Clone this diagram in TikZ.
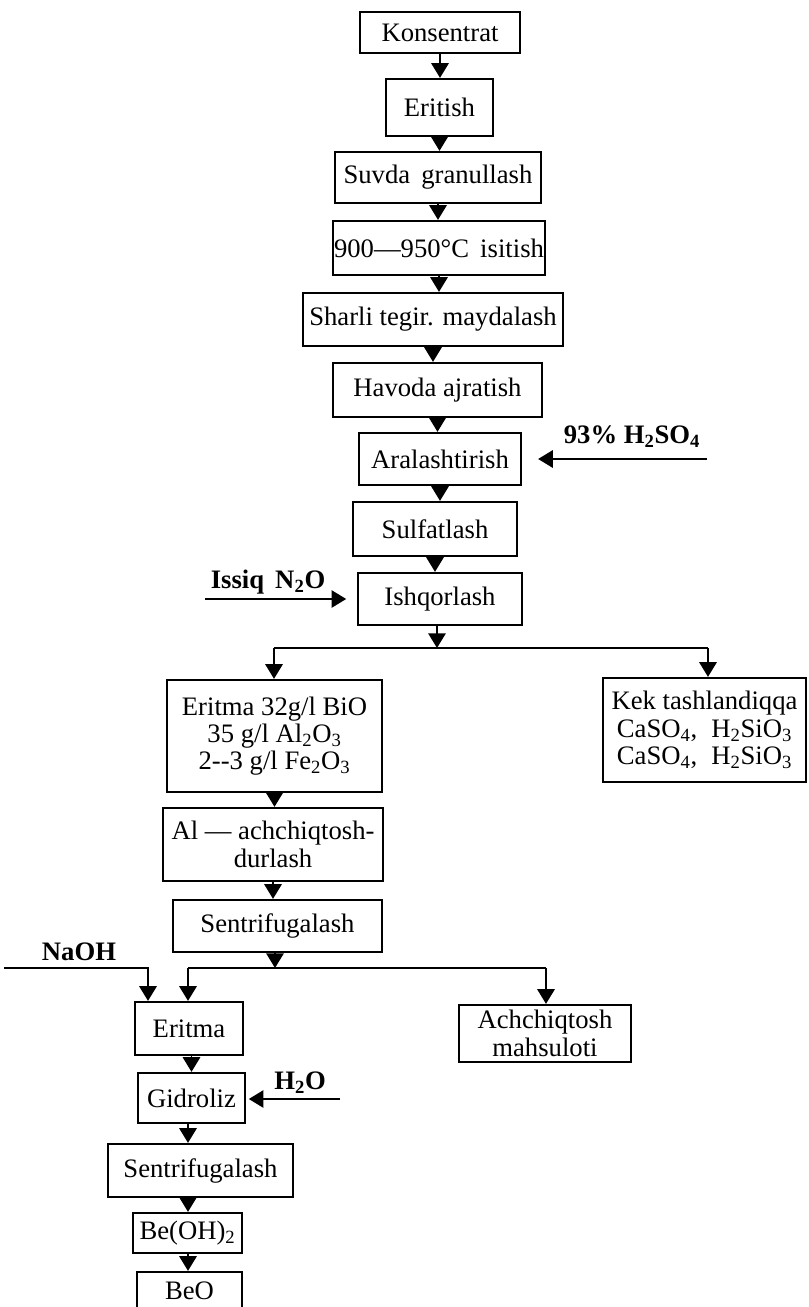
\documentclass[tikz,border=0pt]{standalone}
\usepackage{fontspec}
\setmainfont{Liberation Serif}
\usetikzlibrary{arrows.meta}
\tikzset{
  box/.style args={#1/#2}{draw, line width=1.7pt, inner sep=1pt, align=center,
    minimum width=#1*0.75pt, minimum height=#2*0.75pt,
    font=\fontsize{20}{20.5}\selectfont},
  lbl/.style={inner sep=0pt, font=\fontsize{20}{20.5}\selectfont\bfseries},
  arr/.style={line width=1.4pt, -{Triangle[length=11pt,width=13pt]}},
  ln/.style={line width=1.4pt}
}
\begin{document}
\begin{tikzpicture}[x=0.75pt,y=-0.75pt]
\useasboundingbox (0,0) rectangle (808,1307);
\node[box=160/41] (kon) at (440,32.5) {Konsentrat};
\node[box=107/57] (eri) at (439.5,107.5) {Eritish};
\node[box=206/51] (suv) at (438,177.5) {Suvda\, granullash};
\node[box=208/54] (isi) at (439,248) {900---950\textdegree C\, isitish};
\node[box=260/53] (sha) at (433,319.5) {Sharli tegir. maydalash};
\node[box=209/54] (hav) at (437.5,390) {Havoda ajratish};
\node[box=162/52] (ara) at (440,459) {Aralashtirish};
\node[box=164/54] (sul) at (435,529) {Sulfatlash};
\node[box=164/52] (ish) at (440,599) {Ishqorlash};
\node[box=215/112] (er1) at (274.5,736) {Eritma 32g/l BiO\\35 g/l Al\textsubscript{2}O\textsubscript{3}\\2-{}-3 g/l Fe\textsubscript{2}O\textsubscript{3}};
\node[box=203/104] (kek) at (704.5,730) {Kek tashlandiqqa\\CaSO\textsubscript{4},\; H\textsubscript{2}SiO\textsubscript{3}\\CaSO\textsubscript{4},\; H\textsubscript{2}SiO\textsubscript{3}};
\node[box=220/73] (alb) at (273,844.5) {Al --- achchiqtosh-\\durlash};
\node[box=209/52] (se1) at (277.5,926) {Sentrifugalash};
\node[box=108/53] (er2) at (189,1028.5) {Eritma};
\node[box=172/57] (ach) at (545,1033.5) {Achchiqtosh\\mahsuloti};
\node[box=107/50] (gid) at (191.5,1098) {Gidroliz};
\node[box=185/53] (se2) at (200.5,1170.5) {Sentrifugalash};
\node[box=109/40] (beoh) at (187.5,1233) {Be(OH)\textsubscript{2}};
\node[box=105/38] (beo) at (189.5,1291) {BeO};

\draw[arr] (kon.south) -- (kon.south |- eri.north);
\draw[arr] (eri.south) -- (eri.south |- suv.north);
\draw[arr] (suv.south) -- (suv.south |- isi.north);
\draw[arr] (isi.south) -- (isi.south |- sha.north);
\draw[arr] (sha.south) -- (sha.south |- hav.north);
\draw[arr] (hav.south) -- (hav.south |- ara.north);
\draw[arr] (ara.south) -- (ara.south |- sul.north);
\draw[arr] (sul.south) -- (sul.south |- ish.north);

\coordinate (a93) at (707,459);
\draw[arr, shorten >=12pt] (a93) -- (ara.east);
\node[lbl] (l93) at (632,437) {93\% H\textsubscript{2}SO\textsubscript{4}};
\coordinate (iss) at (205,599);
\draw[arr, shorten >=8pt] (iss) -- (ish.west);
\node[lbl] (liss) at (268,582) {Issiq\, N\textsubscript{2}O};

\coordinate (s1) at (437,648);
\coordinate (s1L) at (274,648);
\coordinate (s1R) at (708,648);
\draw[arr] (s1 |- ish.south) -- (s1);
\draw[ln] (s1L) -- (s1R);
\draw[arr] (s1L) -- (s1L |- er1.north);
\draw[arr] (s1R) -- (s1R |- kek.north);

\draw[arr] (er1.south) -- (er1.south |- alb.north);
\draw[arr] (alb.south) -- (alb.south |- se1.north);

\coordinate (s2) at (275,968);
\coordinate (s2L) at (188,968);
\coordinate (s2R) at (546,968);
\draw[arr] (se1.south -| s2) -- (s2);
\draw[ln] (s2L) -- (s2R);
\draw[arr] (s2L) -- (s2L |- er2.north);
\draw[arr] (s2R) -- (s2R |- ach.north);

\coordinate (na0) at (4,968);
\coordinate (na1) at (148,968);
\draw[arr] (na0) -- (na1) -- (na1 |- er2.north);
\node[lbl] (lna) at (79,952) {NaOH};

\coordinate (cx) at (188,0);
\draw[arr] (er2.south -| gid) -- (gid.north);
\coordinate (h2o) at (340,1099);
\draw[arr, shorten >=2pt] (h2o) -- (gid.east |- h2o);
\node[lbl] (lh2o) at (300,1083) {H\textsubscript{2}O};
\draw[arr] (gid.south -| cx) -- (cx |- se2.north);
\draw[arr] (se2.south -| cx) -- (cx |- beoh.north);
\draw[arr] (beoh.south -| cx) -- (cx |- beo.north);
\end{tikzpicture}
\end{document}
